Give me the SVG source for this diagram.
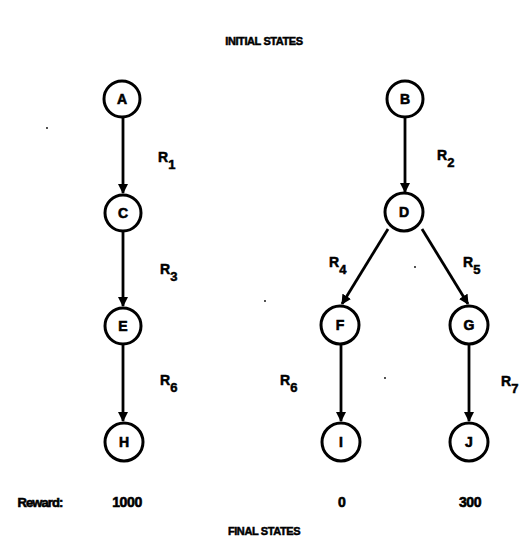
<svg xmlns="http://www.w3.org/2000/svg" width="529" height="551" viewBox="0 0 529 551">
  <style>
    .node circle { fill: #fff; stroke: #000; stroke-width: 3; }
    .node text { font-family: "Liberation Sans", Arial, sans-serif; font-weight: bold; font-size: 14px; text-anchor: middle; fill: #000; stroke: #000; stroke-width: 0.6; }
    .edge { stroke: #000; stroke-width: 2.8; fill: none; marker-end: url(#arrow); }
    .lbl { font-family: "Liberation Sans", Arial, sans-serif; font-weight: bold; font-size: 14px; fill: #000; stroke: #000; stroke-width: 0.5; }
    .sub { font-size: 13px; }
    .title { font-family: "Liberation Sans", Arial, sans-serif; font-weight: bold; font-size: 11px; text-anchor: middle; fill: #000; stroke: #000; stroke-width: 0.5; letter-spacing: -0.4px; }
    .num { font-family: "Liberation Sans", Arial, sans-serif; font-weight: bold; font-size: 14px; text-anchor: middle; fill: #000; stroke: #000; stroke-width: 0.6; }
  </style>
  <defs>
    <marker id="arrow" viewBox="0 0 10 10" refX="9" refY="5" markerWidth="3.6" markerHeight="3.6" orient="auto" markerUnits="strokeWidth">
      <path d="M0,0 L10,5 L0,10 z" fill="#000"/>
    </marker>
  </defs>
  <rect width="529" height="551" fill="#fff"/>

  <text class="title" x="264" y="45">INITIAL STATES</text>
  <text class="title" x="264" y="535">FINAL STATES</text>

  <!-- transitions -->
  <g id="edges">
    <line class="edge" x1="123" y1="117" x2="123" y2="193"/>
    <line class="edge" x1="123" y1="232" x2="123" y2="306"/>
    <line class="edge" x1="123" y1="345" x2="123" y2="421"/>
    <line class="edge" x1="405" y1="117" x2="405" y2="192"/>
    <line class="edge" x1="388" y1="229" x2="342" y2="304"/>
    <line class="edge" x1="422" y1="229" x2="468" y2="304"/>
    <line class="edge" x1="341" y1="344" x2="341" y2="421"/>
    <line class="edge" x1="469" y1="344" x2="469" y2="421"/>
  </g>

  <!-- rule labels -->
  <g id="labels">
    <text class="lbl" x="158" y="162">R<tspan class="sub" dy="7">1</tspan></text>
    <text class="lbl" x="437" y="160">R<tspan class="sub" dy="7">2</tspan></text>
    <text class="lbl" x="160" y="274">R<tspan class="sub" dy="7">3</tspan></text>
    <text class="lbl" x="329" y="267">R<tspan class="sub" dy="7">4</tspan></text>
    <text class="lbl" x="463" y="267">R<tspan class="sub" dy="7">5</tspan></text>
    <text class="lbl" x="160" y="385">R<tspan class="sub" dy="7">6</tspan></text>
    <text class="lbl" x="280" y="385">R<tspan class="sub" dy="7">6</tspan></text>
    <text class="lbl" x="501" y="386">R<tspan class="sub" dy="7">7</tspan></text>
  </g>

  <g id="A" class="node"><circle cx="122" cy="99" r="18"/><text x="122" y="104">A</text></g>
  <g id="B" class="node"><circle cx="405" cy="99" r="18"/><text x="405" y="104">B</text></g>
  <g id="C" class="node"><circle cx="123" cy="213" r="18"/><text x="123" y="218">C</text></g>
  <g id="D" class="node"><circle cx="404" cy="212" r="19"/><text x="404" y="217">D</text></g>
  <g id="E" class="node"><circle cx="123" cy="326" r="18"/><text x="123" y="331">E</text></g>
  <g id="F" class="node"><circle cx="340" cy="325" r="19"/><text x="340" y="330">F</text></g>
  <g id="G" class="node"><circle cx="469" cy="325" r="19"/><text x="469" y="330">G</text></g>
  <g id="H" class="node"><circle cx="124" cy="442" r="19"/><text x="124" y="447">H</text></g>
  <g id="I" class="node"><circle cx="341" cy="442" r="19"/><text x="341" y="447">I</text></g>
  <g id="J" class="node"><circle cx="469" cy="442" r="19"/><text x="469" y="447">J</text></g>

  <g id="rewards">
    <text class="num" x="40" y="507" style="font-size:13px;letter-spacing:-0.9px">Reward:</text>
    <text class="num" x="127" y="507" style="letter-spacing:-0.4px">1000</text>
    <text class="num" x="342" y="507">0</text>
    <text class="num" x="470" y="507" style="letter-spacing:-0.4px">300</text>
  </g>

  <!-- specks -->
  <g fill="#000">
    <circle cx="47" cy="128" r="0.9"/>
    <circle cx="265" cy="301" r="0.9"/>
    <circle cx="415" cy="267" r="0.9"/>
    <circle cx="385" cy="378" r="0.9"/>
  </g>
</svg>
